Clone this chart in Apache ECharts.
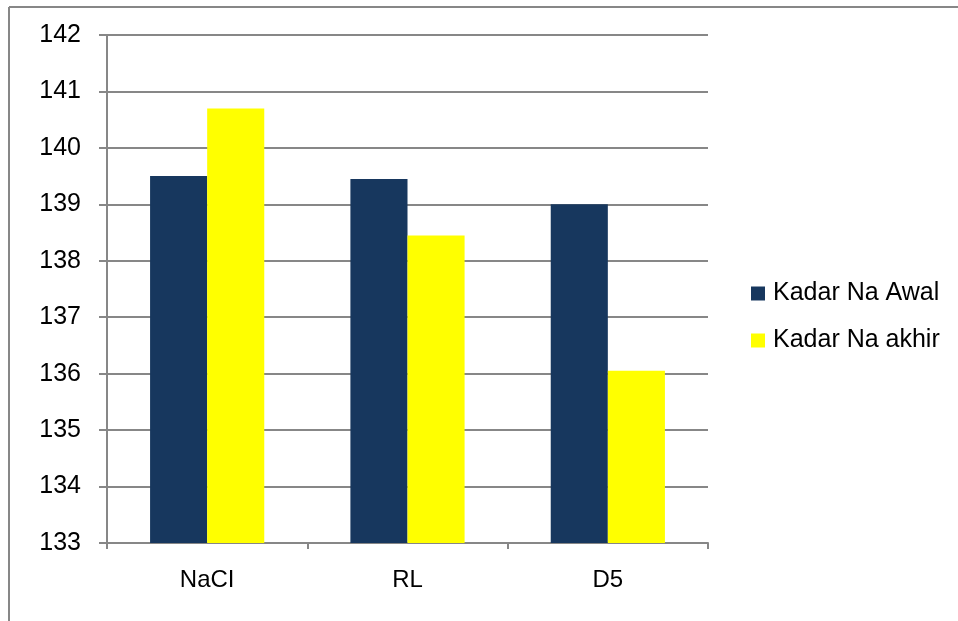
<!DOCTYPE html>
<html>
<head>
<meta charset="utf-8">
<script src="https://cdn.jsdelivr.net/npm/echarts@6/dist/echarts.min.js"></script>
<style>
  html, body { margin: 0; padding: 0; background: #fff; }
  #chart_01 { width: 958px; height: 621px; }
</style>
</head>
<body>
<div id="chart_01"></div>
<script>
var categories = ['NaCI', 'RL', 'D5'];
var seriesNames = ['Kadar Na Awal', 'Kadar Na akhir'];
var awalValues = [139.5, 139.45, 139.0];
var akhirValues = [140.7, 138.45, 136.05];
var yMin = 133;
var yMax = 142;

var chart1;

function setChart1() {
    var dom = document.getElementById("chart_01");
    chart1 = echarts.init(dom);
    var axisColor = '#878787';
    var font = 'Liberation Sans';
    var option = {
        animation: false,
        color: ['#17375E', '#FFFF00'],
        textStyle: { fontFamily: font },
        graphic: [
            // outer chart frame (top and left edges only visible)
            { type: 'line', shape: { x1: 9, y1: 7, x2: 958, y2: 7 }, style: { stroke: axisColor, lineWidth: 2 } },
            { type: 'line', shape: { x1: 9, y1: 7, x2: 9, y2: 621 }, style: { stroke: axisColor, lineWidth: 2 } }
        ],
        legend: {
            orient: 'vertical',
            left: 746,
            top: 276,
            itemWidth: 14,
            itemHeight: 14,
            itemGap: 22,
            icon: 'rect',
            textStyle: { fontSize: 25, color: '#000', fontFamily: font, padding: [0, 0, 0, 3] },
            data: seriesNames
        },
        grid: {
            left: 107,
            right: 250,
            top: 35,
            bottom: 78
        },
        xAxis: {
            type: 'category',
            data: categories,
            axisLine: { lineStyle: { color: axisColor, width: 2 } },
            axisTick: { show: true, length: 6, lineStyle: { color: axisColor, width: 2 } },
            axisLabel: { color: '#000', fontSize: 24, margin: 25, fontFamily: font }
        },
        yAxis: {
            type: 'value',
            min: yMin,
            max: yMax,
            interval: 1,
            axisLine: { show: true, lineStyle: { color: axisColor, width: 2 } },
            axisTick: { show: true, length: 8, lineStyle: { color: axisColor, width: 2 } },
            splitLine: { lineStyle: { color: axisColor, width: 2 } },
            axisLabel: { color: '#000', fontSize: 25, margin: 26, fontFamily: font }
        },
        series: [
            {
                name: seriesNames[0],
                type: 'bar',
                data: awalValues,
                barGap: 0,
                barCategoryGap: '43%'
            },
            {
                name: seriesNames[1],
                type: 'bar',
                data: akhirValues,
                barGap: 0,
                barCategoryGap: '43%'
            }
        ]
    };
    chart1.setOption(option, true);
}

setChart1();
</script>
</body>
</html>
